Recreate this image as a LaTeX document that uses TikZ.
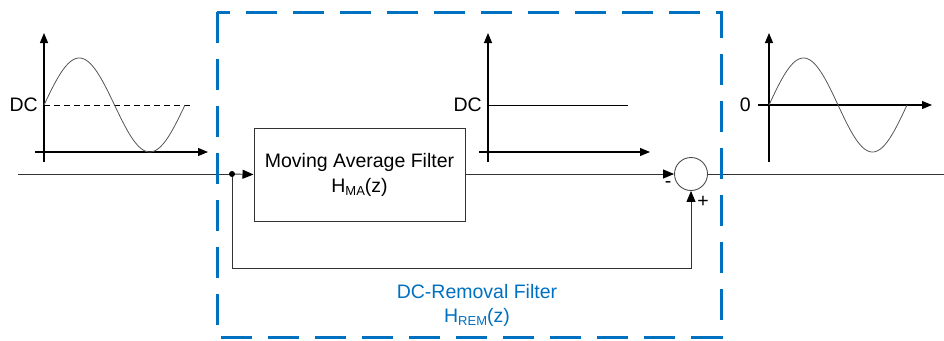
\documentclass[tikz,border=0pt]{standalone}
\usepackage{fontspec}
\setmainfont{Liberation Sans}
\usetikzlibrary{arrows.meta}
\definecolor{remblue}{HTML}{0070C0}
\definecolor{wavegray}{HTML}{555555}
\tikzset{
  sig/.style={draw=black!80, line width=0.9pt},
  tip/.style={-{Triangle[length=10pt,width=8pt]}},
  sigtip/.style={-{Triangle[length=11pt,width=9pt,fill=black,color=black]}},
  axis/.style={draw=black, line width=1.1pt, tip},
  wave/.style={draw=wavegray, line width=0.8pt},
  lbl/.style={font=\fontsize{19.5}{22}\selectfont, inner sep=0pt},
  block/.style={draw=black!80, line width=1pt, minimum width=211pt, minimum height=93pt, align=center, font=\fontsize{19.5}{25}\selectfont},
  sumnode/.style={circle, draw=black!70, line width=0.9pt, minimum size=33pt, inner sep=0pt},
  frame/.style={draw=remblue, line width=3pt, dash pattern=on 31pt off 16pt, dash phase=0pt}
}
\newcommand{\subtxt}[1]{\raisebox{-0.35ex}{\fontsize{13}{13}\selectfont #1}}
\begin{document}
\begin{tikzpicture}[x=1pt,y=-1pt]
  \useasboundingbox (0,0) rectangle (944,340);

  % ---- input signal: sine riding on a DC level ----
  \draw[axis] (44,162) -- (44,33);
  \draw[axis] (35,152) -- (208,152);
  \draw[black, line width=0.9pt, dash pattern=on 6pt off 4pt] (44,105) -- (193,105);
  \draw[wave] plot[domain=0:141, samples=120, smooth] ({44+\x},{105-47*sin(\x/141*360)});
  \node[lbl, anchor=east] (dcin) at (38,105) {DC};

  % ---- moving-average output: the DC level ----
  \draw[axis] (488,162) -- (488,33);
  \draw[axis] (479,152) -- (650,152);
  \draw[black, line width=0.9pt] (488,105) -- (628,105);
  \node[lbl, anchor=east] (dcmid) at (482,105) {DC};

  % ---- output signal: zero-mean sine ----
  \draw[axis] (769,162) -- (769,33);
  \draw[axis] (758,105) -- (932,105);
  \draw[wave] plot[domain=0:138, samples=120, smooth] ({769+\x},{105-47*sin(\x/138*360)});
  \node[lbl, anchor=east] (zero) at (751,105) {0};

  % ---- signal path ----
  \coordinate (in) at (18,174);
  \coordinate (split) at (232,174);
  \coordinate (out) at (944,174);
  \node[block] (maf) at (359.5,174.5) {Moving Average Filter\\H\subtxt{MA}(z)};
  \node[sumnode] (sum) at (691,174) {};
  \coordinate (fbl) at (232,268);
  \coordinate (fbr) at (691,268);

  \draw[sig] (in) -- (split);
  \draw[sig, sigtip] (split) -- (maf.west);
  \draw[sig, sigtip] (maf.east |- sum.west) -- (sum.west);
  \draw[sig] (sum.east) -- (out);
  \draw[sig, sigtip] (split) -- (fbl) -- (fbr) -- (sum.south);
  \fill[black] (split) circle (3pt);

  \node[lbl] (minus) at (668,185) {-};
  \node[lbl] (plus) at (703,202) {+};

  % ---- DC-removal filter boundary ----
  \draw[frame] (217,12) rectangle (721,337);
  \node[lbl, text=remblue, align=center, font=\fontsize{19.5}{24}\selectfont] (remlbl) at (477,305) {DC-Removal Filter\\H\subtxt{REM}(z)};
\end{tikzpicture}
\end{document}
